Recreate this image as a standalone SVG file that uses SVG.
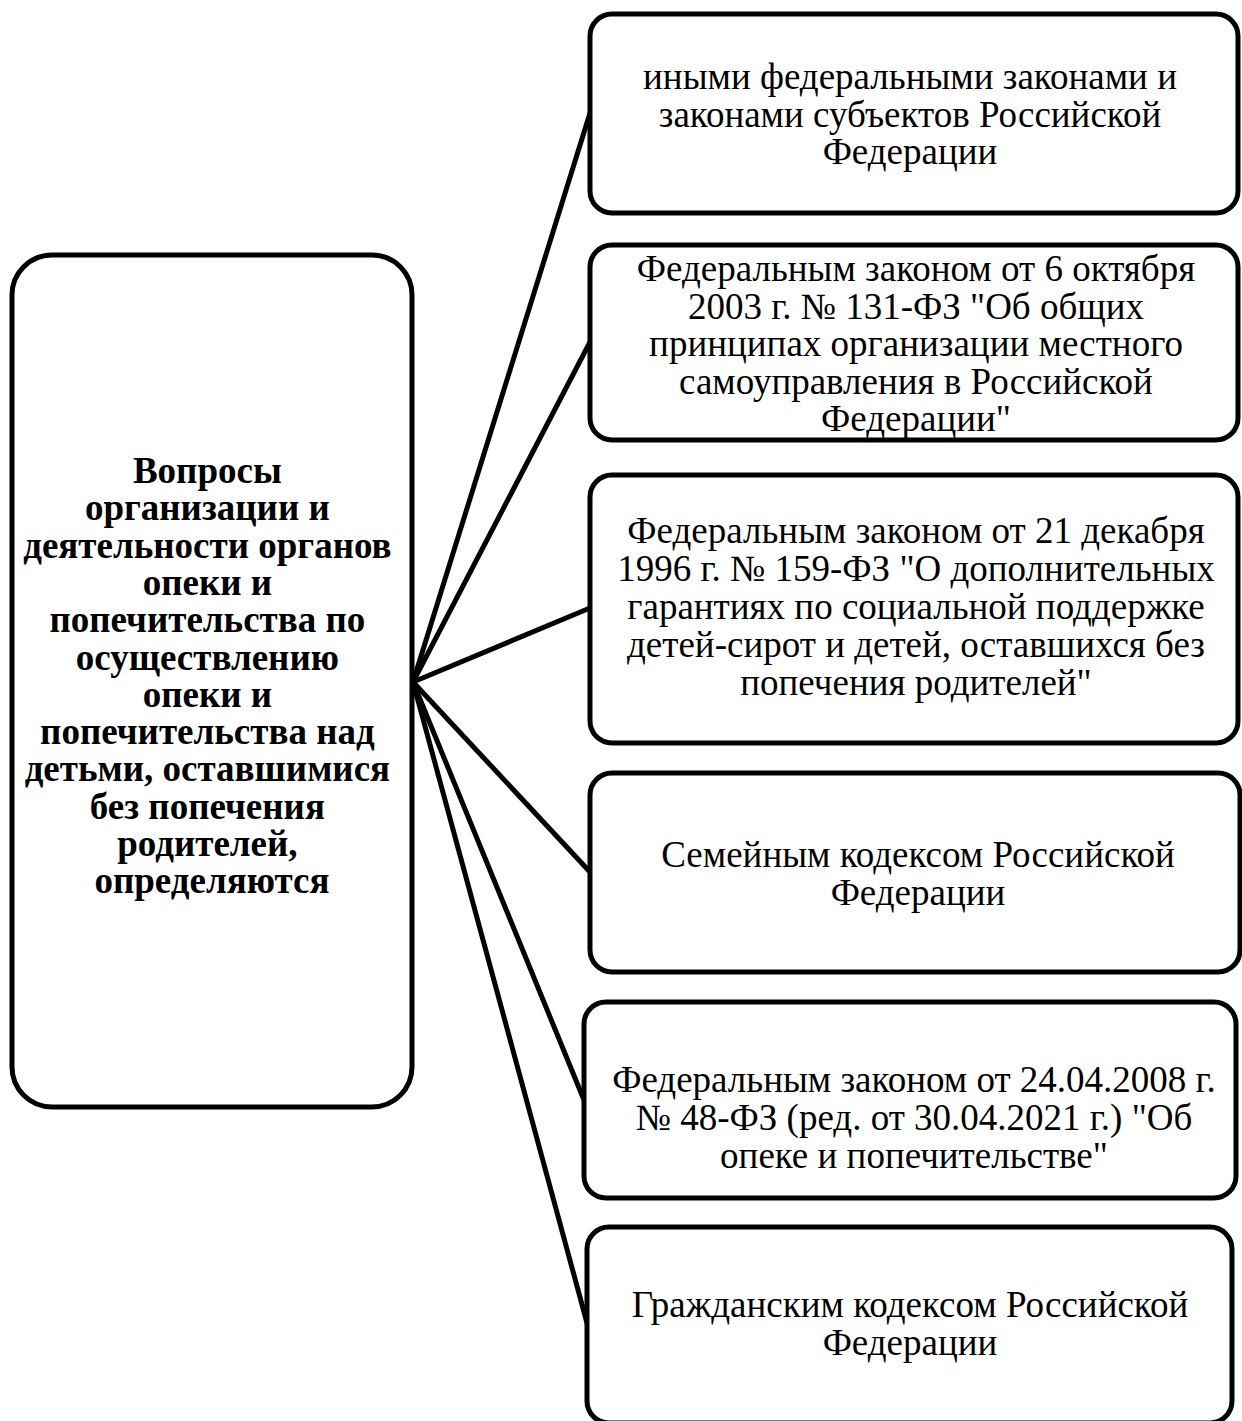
<svg xmlns="http://www.w3.org/2000/svg" width="1242" height="1421" viewBox="0 0 1242 1421">
<style>
.box{fill:#fff;stroke:#000;stroke-width:5}
.con{fill:none;stroke:#000;stroke-width:5;stroke-linecap:round}
.t{font-family:"Liberation Serif","Times New Roman",serif;font-size:37px;fill:#000;text-anchor:middle}
.b{font-weight:bold}
</style>
<rect width="1242" height="1421" fill="#fff"/>
<g id="connectors">
<line class="con" x1="413" y1="682" x2="590" y2="113"/>
<line class="con" x1="413" y1="682" x2="590" y2="342"/>
<line class="con" x1="413" y1="682" x2="590" y2="608"/>
<line class="con" x1="413" y1="682" x2="590" y2="872"/>
<line class="con" x1="413" y1="682" x2="584" y2="1100"/>
<line class="con" x1="413" y1="682" x2="587" y2="1323"/>
</g>
<g id="main">
<rect class="box" x="12" y="255" width="400" height="852" rx="40" ry="40"/>
<text class="t b" x="212">
<tspan x="212" y="483">Вопросы</tspan>
<tspan x="212" y="520.3">организации и</tspan>
<tspan x="212" y="557.6">деятельности органов</tspan>
<tspan x="212" y="594.9">опеки и</tspan>
<tspan x="212" y="632.2">попечительства по</tspan>
<tspan x="212" y="669.5">осуществлению</tspan>
<tspan x="212" y="706.8">опеки и</tspan>
<tspan x="212" y="744.1">попечительства над</tspan>
<tspan x="212" y="781.4">детьми, оставшимися</tspan>
<tspan x="212" y="818.7">без попечения</tspan>
<tspan x="212" y="856">родителей,</tspan>
<tspan x="212" y="893.3">определяются</tspan>
</text>
</g>
<g id="n1">
<rect class="box" x="590" y="14" width="648" height="199" rx="22" ry="22"/>
<text class="t"><tspan x="910" y="89">иными федеральными законами и</tspan><tspan x="910" y="126.5">законами субъектов Российской</tspan><tspan x="910" y="164">Федерации</tspan></text>
</g>
<g id="n2">
<rect class="box" x="590" y="245" width="648" height="195" rx="22" ry="22"/>
<text class="t"><tspan x="916" y="281">Федеральным законом от 6 октября</tspan><tspan x="916" y="319">2003 г. № 131-ФЗ "Об общих</tspan><tspan x="916" y="356">принципах организации местного</tspan><tspan x="916" y="394">самоуправления в Российской</tspan><tspan x="916" y="431">Федерации"</tspan></text>
</g>
<g id="n3">
<rect class="box" x="590" y="475" width="648" height="268" rx="22" ry="22"/>
<text class="t"><tspan x="916" y="543">Федеральным законом от 21 декабря</tspan><tspan x="916" y="581">1996 г. № 159-ФЗ "О дополнительных</tspan><tspan x="916" y="619">гарантиях по социальной поддержке</tspan><tspan x="916" y="657">детей-сирот и детей, оставшихся без</tspan><tspan x="916" y="695">попечения родителей"</tspan></text>
</g>
<g id="n4">
<rect class="box" x="590" y="773" width="650" height="199" rx="22" ry="22"/>
<text class="t"><tspan x="918" y="867">Семейным кодексом Российской</tspan><tspan x="918" y="905">Федерации</tspan></text>
</g>
<g id="n5">
<rect class="box" x="584" y="1002" width="652" height="196" rx="22" ry="22"/>
<text class="t"><tspan x="914" y="1092">Федеральным законом от 24.04.2008 г.</tspan><tspan x="914" y="1130">№ 48-ФЗ (ред. от 30.04.2021 г.) "Об</tspan><tspan x="914" y="1168">опеке и попечительстве"</tspan></text>
</g>
<g id="n6">
<rect class="box" x="587" y="1227" width="645" height="196" rx="22" ry="22"/>
<text class="t"><tspan x="910" y="1317">Гражданским кодексом Российской</tspan><tspan x="910" y="1355">Федерации</tspan></text>
</g>
</svg>
